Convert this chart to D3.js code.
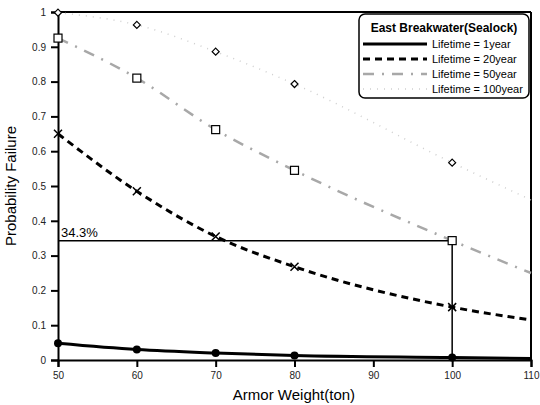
<!DOCTYPE html>
<html><head><meta charset="utf-8">
<script src="https://cdn.jsdelivr.net/npm/d3@7"></script>
<style>body{margin:0;background:#fff}svg{display:block}text{font-family:"Liberation Sans",Arial,sans-serif}</style>
</head><body><svg id="c" width="540" height="405"></svg>
<script>
const armorWeights = [50, 60, 70, 80, 100, 110];
const markerWeights = [50, 60, 70, 80, 100];
const life1 = [0.048, 0.030, 0.020, 0.013, 0.007, 0.004];
const life20 = [0.65, 0.485, 0.355, 0.268, 0.152, 0.115];
const life50 = [0.925, 0.81, 0.662, 0.545, 0.343, 0.25];
const life100 = [0.998, 0.963, 0.886, 0.793, 0.567, 0.46];
const seriesNames = ["Lifetime = 1year", "Lifetime = 20year", "Lifetime = 50year", "Lifetime = 100year"];
const xTicks = [50, 60, 70, 80, 90, 100, 110];
const yTicks = [0, 0.1, 0.2, 0.3, 0.4, 0.5, 0.6, 0.7, 0.8, 0.9, 1];
const refValue = 0.343, refWeight = 100, refLabel = "34.3%";
const legendTitle = "East Breakwater(Sealock)";

const svg = d3.select("#c");
const x = d3.scaleLinear().domain([50, 110]).range([58, 531]);
const y = d3.scaleLinear().domain([0, 1]).range([360, 12]);

// frame top/right
svg.append("line").attr("x1", 58).attr("x2", 531).attr("y1", y(1)).attr("y2", y(1)).attr("stroke", "#000").attr("stroke-width", 2);
svg.append("line").attr("x1", 531).attr("x2", 531).attr("y1", y(1)).attr("y2", y(0)).attr("stroke", "#000").attr("stroke-width", 2);

// axes
const xAxis = svg.append("g").attr("transform", `translate(0,${y(0)})`)
  .call(d3.axisBottom(x).tickValues(xTicks).tickFormat(d3.format("d")).tickSize(7).tickPadding(5));
const yAxis = svg.append("g").attr("transform", `translate(${x(50)},0)`)
  .call(d3.axisLeft(y).tickValues(yTicks).tickFormat(d => d === 0 || d === 1 ? String(d) : d.toFixed(1)).tickSize(7).tickPadding(5));
[xAxis, yAxis].forEach(g => {
  g.select(".domain").attr("stroke", "#000").attr("stroke-width", 2);
  g.selectAll(".tick line").attr("stroke", "#000").attr("stroke-width", 2);
  g.selectAll("text").attr("font-size", 10).attr("fill", "#222").attr("font-family", "Liberation Sans, Arial, sans-serif");
});

svg.append("text").attr("x", 294).attr("y", 400).attr("text-anchor", "middle").attr("font-size", 15).text("Armor Weight(ton)");
svg.append("text").attr("transform", "translate(16,186) rotate(-90)").attr("text-anchor", "middle").attr("font-size", 15).text("Probability Failure");

// reference lines
svg.append("path").attr("d", `M${x(50)},${y(refValue)}H${x(refWeight)}V${y(0)}`).attr("fill", "none").attr("stroke", "#000").attr("stroke-width", 1.5);
svg.append("text").attr("x", 61).attr("y", y(refValue) - 4).attr("font-size", 13).text(refLabel);

const line = d3.line().x(d => x(d[0])).y(d => y(d[1])).curve(d3.curveMonotoneX);
const styles = [
  {stroke: "#000", width: 3, dash: null},
  {stroke: "#000", width: 3, dash: "7,5"},
  {stroke: "#a8a8a8", width: 2.5, dash: "11,8,2,8"},
  {stroke: "#cfcfcf", width: 1.5, dash: "1,6"}
];
const allSeries = [life1, life20, life50, life100];
allSeries.forEach((vals, i) => {
  const st = styles[i];
  const p = svg.append("path").datum(armorWeights.map((w, j) => [w, vals[j]]))
    .attr("d", line).attr("fill", "none").attr("stroke", st.stroke).attr("stroke-width", st.width);
  if (st.dash) p.attr("stroke-dasharray", st.dash);
});

// markers
const mk = (vals) => markerWeights.map(w => [x(w), y(vals[armorWeights.indexOf(w)])]);
svg.selectAll(".m1").data(mk(life1)).enter().append("circle").attr("cx", d => d[0]).attr("cy", d => d[1]).attr("r", 4).attr("fill", "#000");
svg.selectAll(".m20").data(mk(life20)).enter().append("path")
  .attr("d", d => `M${d[0]-4},${d[1]-4}L${d[0]+4},${d[1]+4}M${d[0]+4},${d[1]-4}L${d[0]-4},${d[1]+4}`)
  .attr("stroke", "#000").attr("stroke-width", 1.5).attr("fill", "none");
svg.selectAll(".m50").data(mk(life50)).enter().append("rect")
  .attr("x", d => d[0] - 4).attr("y", d => d[1] - 4).attr("width", 8).attr("height", 8)
  .attr("fill", "#fff").attr("stroke", "#000").attr("stroke-width", 1.2);
svg.selectAll(".m100").data(mk(life100)).enter().append("path")
  .attr("d", d => `M${d[0]},${d[1]-3.5}L${d[0]+3.5},${d[1]}L${d[0]},${d[1]+3.5}L${d[0]-3.5},${d[1]}Z`)
  .attr("fill", "#fff").attr("stroke", "#000").attr("stroke-width", 1.2);

// legend
const lg = svg.append("g");
lg.append("rect").attr("x", 359).attr("y", 14).attr("width", 170).attr("height", 84).attr("rx", 6)
  .attr("fill", "#fff").attr("stroke", "#000").attr("stroke-width", 1.5);
lg.append("text").attr("x", 444).attr("y", 32).attr("text-anchor", "middle").attr("font-size", 12).attr("font-weight", "bold").text(legendTitle);
seriesNames.forEach((name, i) => {
  const yy = 44 + i * 15;
  const st = styles[i];
  const l = lg.append("line").attr("x1", 363).attr("x2", 427).attr("y1", yy).attr("y2", yy)
    .attr("stroke", st.stroke).attr("stroke-width", st.width);
  if (st.dash) l.attr("stroke-dasharray", st.dash);
  lg.append("text").attr("x", 432).attr("y", yy + 4).attr("font-size", 11).text(name);
});
</script></body></html>
